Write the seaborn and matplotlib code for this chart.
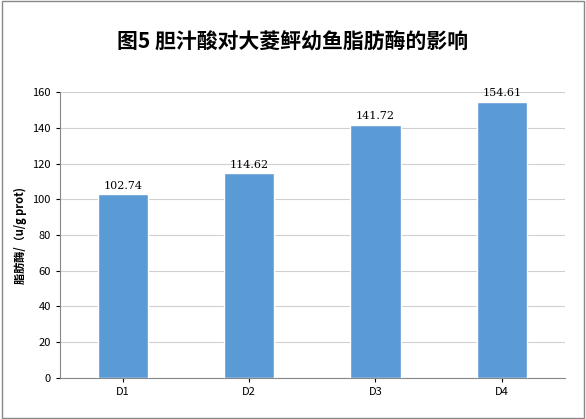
import matplotlib
matplotlib.use("Agg")
import matplotlib.pyplot as plt
import seaborn as sns
import pandas as pd

groups = ["D1", "D2", "D3", "D4"]
lipase = [102.74, 114.62, 141.72, 154.61]
yticks = list(range(0, 161, 20))

sns.set_style("white")
plt.rcParams['font.family'] = ['Noto Sans CJK SC', 'DejaVu Sans']
plt.rcParams['text.color'] = 'black'
plt.rcParams['xtick.color'] = 'black'
plt.rcParams['ytick.color'] = 'black'
plt.rcParams['axes.labelcolor'] = 'black'

df = pd.DataFrame({"group": groups, "lipase": lipase})

fig = plt.figure(figsize=(5.86, 4.19), dpi=100)
ax = fig.add_axes([0.102, 0.098, 0.862, 0.682])
sns.barplot(data=df, x="group", y="lipase", color="#5B9BD5", width=0.4,
            saturation=1, ax=ax, zorder=3)
for i, v in enumerate(lipase):
    ax.text(i, v + 2, f"{v:.2f}", ha="center", va="bottom", fontsize=8,
            family=['DejaVu Serif'])
ax.set_ylim(0, 160)
ax.set_yticks(yticks)
ax.yaxis.grid(True, color="#D0D0D0", lw=0.8, zorder=0)
ax.tick_params(axis="both", labelsize=8, length=3, left=True, bottom=True)
ax.set_xlabel("")
ax.set_ylabel("脂肪酶/（u/g prot)", fontsize=8, fontweight="bold")
for s in ["top", "right"]:
    ax.spines[s].set_visible(False)
for s in ["left", "bottom"]:
    ax.spines[s].set_color("#888888")
fig.text(0.5, 0.9, "图5 胆汁酸对大菱鲆幼鱼脂肪酶的影响", ha="center", va="center",
         fontsize=15, fontweight="bold")
fig.patches.append(plt.Rectangle((0.003, 0.003), 0.994, 0.994, transform=fig.transFigure,
                                 fill=False, edgecolor="#888888", lw=1))
fig.savefig("out.png", dpi=100)
